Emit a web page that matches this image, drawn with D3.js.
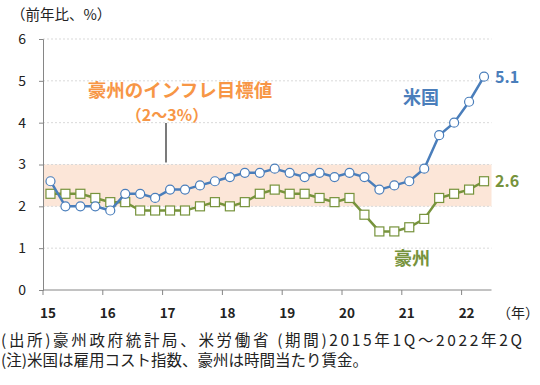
<!DOCTYPE html>
<html>
<head>
<meta charset="utf-8">
<script src="https://cdn.jsdelivr.net/npm/d3@7"></script>
<style>
  body { margin: 0; background: #fff; }
  text { font-family: "Noto Sans CJK JP", "Noto Sans", sans-serif; }
</style>
</head>
<body>
<script>
// 四半期データ 2015Q1〜2022Q2
const quarters = d3.range(30);
const usValues = [2.6, 2.0, 2.0, 2.0, 1.9, 2.3, 2.3, 2.2, 2.4, 2.4,
                  2.5, 2.6, 2.7, 2.8, 2.8, 2.9, 2.8, 2.7, 2.8, 2.7,
                  2.8, 2.7, 2.4, 2.5, 2.6, 2.9, 3.7, 4.0, 4.5, 5.1];
const auValues = [2.3, 2.3, 2.3, 2.2, 2.1, 2.1, 1.9, 1.9, 1.9, 1.9,
                  2.0, 2.1, 2.0, 2.1, 2.3, 2.4, 2.3, 2.3, 2.2, 2.1,
                  2.2, 1.8, 1.4, 1.4, 1.5, 1.7, 2.2, 2.3, 2.4, 2.6];
const yearLabels = ['15', '16', '17', '18', '19', '20', '21', '22'];
const yTicks = [0, 1, 2, 3, 4, 5, 6];
const targetBand = [2, 3];

const W = 540, H = 385;
const mLeft = 43, mRight = 491.5, mTop = 39, mBottom = 290;

const svg = d3.select('body').append('svg')
  .attr('width', W)
  .attr('height', H);

const x = d3.scaleBand().domain(quarters).range([mLeft, mRight]);
const y = d3.scaleLinear().domain([0, 6]).range([mBottom, mTop]);

const blue = '#4a7ebb', green = '#77933c', orange = '#f79646';

// 目標レンジ
svg.append('rect')
  .attr('x', mLeft).attr('width', mRight - mLeft)
  .attr('y', y(targetBand[1])).attr('height', y(targetBand[0]) - y(targetBand[1]))
  .attr('fill', '#fce6d8');

// グリッド
svg.selectAll('line.grid')
  .data(yTicks.filter(d => d > 0))
  .enter().append('line')
  .attr('class', 'grid')
  .attr('x1', mLeft).attr('x2', mRight)
  .attr('y1', d => y(d)).attr('y2', d => y(d))
  .attr('stroke', '#d9d9d9')
  .attr('stroke-dasharray', '2,2');

// Y軸
const yAxis = svg.append('g')
  .attr('transform', `translate(${mLeft},0)`)
  .call(d3.axisLeft(y).tickValues(yTicks).tickSize(4).tickFormat(d3.format('d')));
yAxis.select('.domain').attr('stroke', '#868686');
yAxis.selectAll('.tick line').attr('stroke', '#868686');
yAxis.selectAll('.tick text')
  .attr('x', -17)
  .attr('font-size', 14)
  .attr('font-family', 'Open Sans, sans-serif')
  .attr('fill', '#222');

// X軸
const xAxis = svg.append('g')
  .attr('transform', `translate(0,${mBottom})`);
xAxis.append('line')
  .attr('x1', mLeft).attr('x2', mRight)
  .attr('stroke', '#868686');
const tickQ = quarters.filter(q => q % 4 === 0);
xAxis.selectAll('line.tk')
  .data(tickQ)
  .enter().append('line')
  .attr('class', 'tk')
  .attr('x1', d => x(d)).attr('x2', d => x(d))
  .attr('y1', 0).attr('y2', 5)
  .attr('stroke', '#868686');
xAxis.selectAll('text.yr')
  .data(tickQ)
  .enter().append('text')
  .attr('class', 'yr')
  .attr('x', (d, i) => x(d) + 5)
  .attr('y', 28)
  .attr('text-anchor', 'middle')
  .attr('font-size', 13.5)
  .attr('font-weight', 'bold')
  .attr('font-family', 'Open Sans, sans-serif')
  .attr('fill', '#222')
  .text((d, i) => yearLabels[i]);
svg.append('text')
  .attr('x', 497).attr('y', 318)
  .attr('font-size', 14)
  .attr('fill', '#222')
  .text('（年）');

// 単位
svg.append('text')
  .attr('x', 11).attr('y', 20)
  .attr('font-size', 14.5)
  .attr('fill', '#222')
  .text('（前年比、%）');

const cx = d => x(d) + x.bandwidth() / 2;

const line = d3.line()
  .x((d, i) => cx(i))
  .y(d => y(d));

// 豪州
svg.append('path')
  .datum(auValues)
  .attr('d', line)
  .attr('fill', 'none')
  .attr('stroke', green)
  .attr('stroke-width', 2.5);
svg.selectAll('rect.au')
  .data(auValues)
  .enter().append('rect')
  .attr('class', 'au')
  .attr('x', (d, i) => cx(i) - 4.5)
  .attr('y', d => y(d) - 4.5)
  .attr('width', 9).attr('height', 9)
  .attr('fill', '#fff')
  .attr('stroke', green)
  .attr('stroke-width', 1.2);

// 米国
svg.append('path')
  .datum(usValues)
  .attr('d', line)
  .attr('fill', 'none')
  .attr('stroke', blue)
  .attr('stroke-width', 2.5);
svg.selectAll('circle.us')
  .data(usValues)
  .enter().append('circle')
  .attr('class', 'us')
  .attr('cx', (d, i) => cx(i))
  .attr('cy', d => y(d))
  .attr('r', 4.5)
  .attr('fill', '#fff')
  .attr('stroke', blue)
  .attr('stroke-width', 1.2);

// ラベル
const last = quarters.length - 1;
svg.append('text')
  .attr('x', cx(last) + 11).attr('y', y(usValues[last]) + 6)
  .attr('font-size', 16).attr('font-weight', 'bold')
  .attr('font-family', 'Open Sans, sans-serif')
  .attr('fill', blue)
  .text(usValues[last].toFixed(1));
svg.append('text')
  .attr('x', cx(last) + 11).attr('y', y(auValues[last]) + 6)
  .attr('font-size', 16).attr('font-weight', 'bold')
  .attr('font-family', 'Open Sans, sans-serif')
  .attr('fill', green)
  .text(auValues[last].toFixed(1));
svg.append('text')
  .attr('x', 421).attr('y', 104)
  .attr('text-anchor', 'middle')
  .attr('font-size', 18).attr('font-weight', 'bold')
  .attr('fill', blue)
  .text('米国');
svg.append('text')
  .attr('x', 412).attr('y', 265)
  .attr('text-anchor', 'middle')
  .attr('font-size', 18).attr('font-weight', 'bold')
  .attr('fill', green)
  .text('豪州');

// 目標注記
svg.append('text')
  .attr('x', 180).attr('y', 97)
  .attr('text-anchor', 'middle')
  .attr('font-size', 18.5).attr('font-weight', 'bold')
  .attr('fill', orange)
  .text('豪州のインフレ目標値');
svg.append('text')
  .attr('x', 167).attr('y', 121)
  .attr('text-anchor', 'middle')
  .attr('font-size', 16).attr('font-weight', 'bold')
  .attr('fill', orange)
  .text('（2～3%）');
svg.append('line')
  .attr('x1', 166).attr('x2', 166)
  .attr('y1', 123).attr('y2', y(targetBand[1]) - 2)
  .attr('stroke', '#222')
  .attr('stroke-width', 1.2);

// 出所・注
svg.append('text')
  .attr('x', 1).attr('y', 346)
  .attr('font-size', 15.5)
  .attr('fill', '#222')
  .attr('textLength', 521)
  .text('(出所)豪州政府統計局、米労働省 (期間)2015年1Q～2022年2Q');
svg.append('text')
  .attr('x', 1).attr('y', 366)
  .attr('font-size', 15.5)
  .attr('fill', '#222')
  .text('(注)米国は雇用コスト指数、豪州は時間当たり賃金。');
</script>
</body>
</html>
